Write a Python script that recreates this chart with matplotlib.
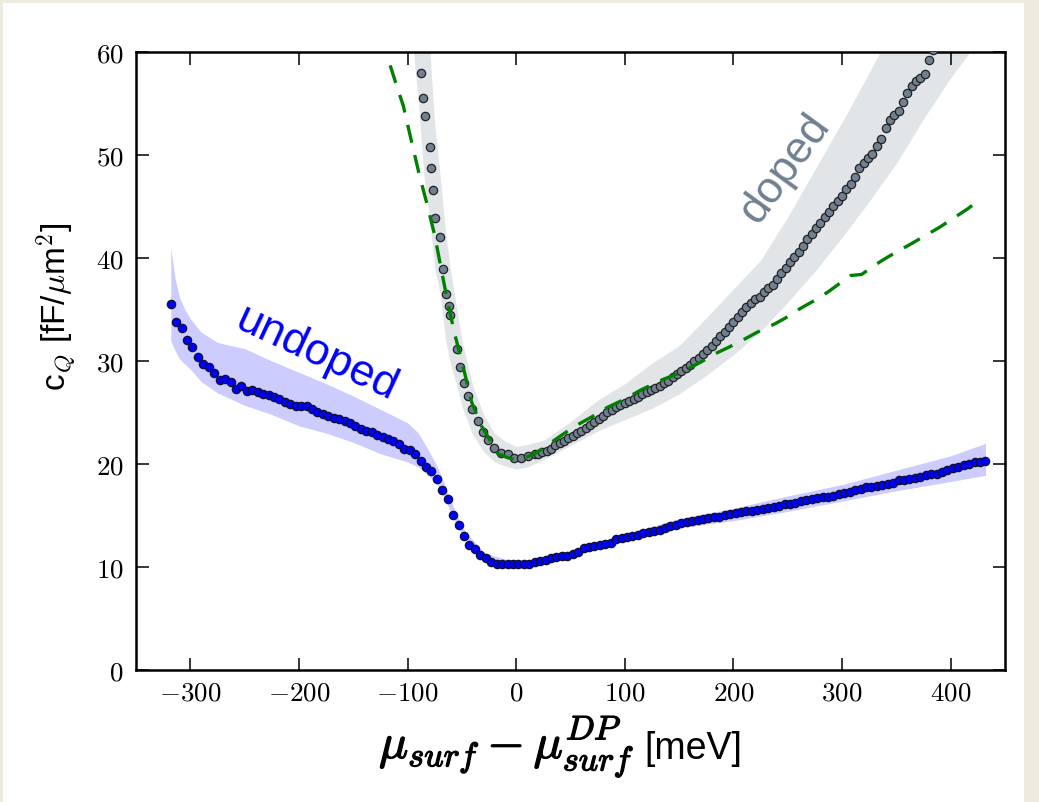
import matplotlib
matplotlib.use("Agg")
import matplotlib.pyplot as plt
import matplotlib.patheffects as pe
from matplotlib.patches import Rectangle
from matplotlib.ticker import FuncFormatter, MultipleLocator

plt.rcParams["mathtext.fontset"] = "cm"
plt.rcParams["font.family"] = ["Liberation Sans", "DejaVu Sans"]

# undoped sample: measured points
undoped_mu = [
    -318, -313, -308, -303, -298, -293, -288, -283, -278, -273, -268, -263, -258, -253, -248,
    -243, -238, -233, -228, -223, -218, -213, -208, -203, -198, -193, -188, -183, -178, -173,
    -168, -163, -158, -153, -148, -143, -138, -133, -128, -123, -118, -113, -108, -103, -98,
    -93, -88, -83, -78, -73, -68, -63, -58, -53, -48, -43, -38, -33, -28, -23,
    -18, -13, -8, -3, 2, 7, 12, 17, 22, 27, 32, 37, 42, 47, 52,
    57, 62, 67, 72, 77, 82, 87, 92, 97, 102, 107, 112, 117, 122, 127,
    132, 137, 142, 147, 152, 157, 162, 167, 172, 177, 182, 187, 192, 197, 202,
    207, 212, 217, 222, 227, 232, 237, 242, 247, 252, 257, 262, 267, 272, 277,
    282, 287, 292, 297, 302, 307, 312, 317, 322, 327, 332, 337, 342, 347, 352,
    357, 362, 367, 372, 377, 382, 387, 392, 397, 402, 407, 412, 417, 422, 427,
    432,
]
undoped_cq = [
    35.5, 33.8, 33.2, 32.0, 31.4, 30.4, 29.7, 29.4, 28.8, 28.2, 28.3, 28.0, 27.3, 27.6, 27.1,
    27.2, 27.0, 26.8, 26.7, 26.5, 26.3, 26.0, 25.8, 25.6, 25.6, 25.6, 25.3, 25.0, 24.9, 24.7,
    24.5, 24.4, 24.2, 24.0, 23.7, 23.4, 23.2, 23.1, 22.8, 22.6, 22.4, 22.2, 21.9, 21.5, 21.4,
    21.0, 20.3, 19.7, 19.3, 18.5, 17.5, 16.6, 15.0, 14.1, 13.0, 12.1, 11.7, 11.2, 10.9, 10.5,
    10.3, 10.3, 10.3, 10.3, 10.3, 10.3, 10.3, 10.5, 10.6, 10.7, 10.9, 11.0, 11.1, 11.1, 11.3,
    11.5, 11.8, 11.9, 12.0, 12.1, 12.2, 12.3, 12.7, 12.8, 12.9, 13.0, 13.1, 13.3, 13.4, 13.5,
    13.6, 13.8, 14.0, 14.1, 14.3, 14.4, 14.5, 14.6, 14.7, 14.8, 14.9, 14.9, 15.0, 15.1, 15.2,
    15.3, 15.4, 15.4, 15.5, 15.6, 15.7, 15.8, 15.9, 16.1, 16.1, 16.2, 16.4, 16.5, 16.6, 16.7,
    16.8, 16.8, 16.9, 17.1, 17.2, 17.3, 17.5, 17.6, 17.8, 17.8, 17.9, 18.0, 18.1, 18.2, 18.4,
    18.4, 18.5, 18.6, 18.7, 18.9, 19.0, 19.0, 19.2, 19.4, 19.6, 19.7, 19.9, 20.0, 20.2, 20.2,
    20.3,
]

# undoped uncertainty band
undoped_band_mu = [-318, -314, -310, -305, -300, -290, -275, -250, -225, -200, -175, -150, -125,
                   -100, -90, -80, -72, -65, -60, -50, -30, 0, 50, 100, 150, 200, 250, 300, 350,
                   400, 432]
undoped_band_hi = [41.0, 38.0, 36.2, 35.0, 34.1, 32.8, 31.8, 31.2, 30.0, 28.9, 27.8, 26.6, 25.3,
                   24.0, 23.0, 21.2, 19.6, 17.8, 16.4, 13.9, 11.4, 10.45, 11.5, 13.2, 14.7, 15.7,
                   16.9, 18.0, 19.4, 20.8, 22.0]
undoped_band_lo = [32.0, 31.0, 30.2, 29.7, 29.2, 28.0, 26.9, 25.7, 24.8, 23.7, 23.0, 22.1, 21.0,
                   20.2, 19.7, 18.8, 17.9, 16.5, 15.2, 13.1, 10.9, 10.15, 11.0, 12.5, 13.8, 14.5,
                   15.4, 16.4, 17.4, 18.3, 18.9]

# doped sample: measured points
doped_mu = [
    -95, -91, -87.5, -86, -84.4, -79.8, -78.2, -76.7, -74.3, -70, -67.5, -64.5, -62, -60.5, -54.4,
    -51.6, -47.6, -44, -40.8, -35.3, -30.7, -26, -20, -13.8, -7.6, -1.6, 4.6, 10.8, 16.9, 20,
    24, 28, 32, 36, 40, 44, 48, 52, 56, 60, 64, 68, 72, 76, 80,
    84, 88, 92, 96, 100, 104, 108, 112, 116, 120, 124, 128, 132, 136, 140,
    144, 148, 152, 156, 160, 164, 168, 172, 176, 180, 184, 188, 192, 196, 200,
    204, 208, 212, 216, 220, 224, 228, 232, 236, 240, 244, 248, 252, 256, 260,
    264, 268, 272, 276, 280, 284, 288, 292, 296, 300, 304, 308, 312, 316, 320,
    324, 328, 332, 336, 340, 344, 348, 352, 356, 360, 364, 368, 372, 376, 380,
    384, 388, 392, 396, 400, 404, 408, 412, 416, 420, 424, 428, 432,
]
doped_cq = [
    65.0, 61.5, 58.0, 55.5, 53.8, 50.8, 48.7, 46.6, 43.9, 42.0, 38.9, 36.5, 35.3, 34.5, 31.2,
    29.4, 27.9, 26.6, 25.3, 24.2, 23.1, 22.3, 21.6, 21.1, 21.0, 20.6, 20.6, 20.8, 21.0, 21.0,
    21.2, 21.3, 21.5, 21.8, 22.0, 22.2, 22.5, 22.7, 23.0, 23.2, 23.5, 23.8, 24.1, 24.4, 24.7,
    25.0, 25.2, 25.5, 25.7, 25.9, 26.1, 26.3, 26.5, 26.8, 27.0, 27.2, 27.4, 27.6, 27.9, 28.1,
    28.4, 28.7, 29.0, 29.3, 29.6, 30.0, 30.3, 30.7, 31.1, 31.5, 31.9, 32.4, 32.8, 33.3, 33.8,
    34.3, 34.8, 35.2, 35.6, 36.0, 36.2, 36.7, 37.1, 37.4, 38.0, 38.5, 39.0, 39.6, 40.1, 40.6,
    41.2, 41.8, 42.3, 42.9, 43.4, 44.0, 44.5, 45.0, 45.5, 46.0, 46.7, 47.2, 47.9, 48.7, 49.2,
    49.7, 50.1, 50.9, 51.6, 52.6, 53.4, 53.9, 54.3, 55.1, 56.0, 56.7, 57.2, 57.5, 57.9, 59.2,
    60.2, 61.0, 62.0, 63.0, 64.0, 65.0, 66.0, 67.0, 68.0, 69.0, 70.0, 71.0, 72.0,
]

# doped uncertainty band
doped_band_mu = [-95, -90, -85, -80, -75, -70, -65, -60, -55, -50, -40, -30, -20, -10, 0, 10, 25,
                 50, 75, 100, 125, 150, 175, 200, 225, 250, 275, 300, 325, 350, 375, 400, 432]
doped_band_hi = [74.0, 70.0, 64.0, 61.0, 53.0, 48.0, 42.5, 38.5, 35.3, 32.0, 27.6, 24.8, 23.0, 22.2,
                 21.7, 21.9, 22.3, 24.1, 26.2, 27.8, 29.8, 31.5, 34.2, 37.0, 39.8, 44.0, 48.6,
                 53.2, 58.0, 63.0, 68.0, 73.0, 80.0]
doped_band_lo = [60.5, 55.0, 48.0, 44.0, 39.0, 36.5, 32.0, 29.5, 27.7, 25.6, 22.8, 21.2, 20.2, 19.8,
                 19.5, 19.7, 20.4, 21.8, 23.2, 24.3, 25.4, 26.8, 28.6, 30.6, 32.9, 35.7, 38.7,
                 42.0, 45.5, 49.2, 53.5, 57.5, 62.0]

# model curve (green dashed)
model_mu = [-116, -110, -104, -97, -89, -83, -75, -69, -63, -57, -49, -41, -32, -24, -17, -10, -4,
            2, 8, 15, 23, 35, 53, 70, 84, 100, 115, 135, 152, 170, 183, 195, 208, 222, 238, 250,
            260, 275, 287, 300, 308, 318, 330, 339, 352, 364, 377, 390, 403, 416, 421]
model_cq = [58.7, 56.7, 54.8, 51.6, 48.0, 45.6, 42.2, 38.9, 35.7, 32.8, 29.5, 26.0, 23.7, 22.3, 21.0,
            20.7, 20.5, 20.5, 20.6, 20.9, 21.4, 22.3, 23.6, 24.6, 25.5, 26.3, 27.2, 28.2, 28.9,
            29.9, 30.7, 31.3, 32.0, 32.8, 33.6, 34.3, 35.0, 35.9, 36.7, 37.7, 38.3, 38.4, 39.3,
            39.9, 40.7, 41.4, 42.2, 43.0, 43.9, 44.8, 45.2]

fig = plt.figure(figsize=(10.39, 8.03), dpi=100, facecolor="#edebe0")
fig.patches.append(Rectangle((3 / 1039, 0), 1021 / 1039, 799 / 803, transform=fig.transFigure,
                             facecolor="white", edgecolor="none", zorder=-10))
ax = fig.add_axes([0.1309, 0.1644, 0.8364, 0.7696])

ax.fill_between(undoped_band_mu, undoped_band_lo, undoped_band_hi, color="blue", alpha=0.2, lw=0)
ax.fill_between(doped_band_mu, doped_band_lo, doped_band_hi, color="slategray", alpha=0.2, lw=0)

ax.plot(undoped_mu, undoped_cq, "o", ms=6, mfc="blue", mec="#111133", mew=0.9, zorder=3)
ax.plot(doped_mu, doped_cq, "o", ms=6, mfc="slategray", mec="#222222", mew=0.9, zorder=3)
ax.plot(model_mu, model_cq, "--", color="green", lw=2.4, dashes=(5.5, 3.8), zorder=4)

ax.text(-184, 30.8, "undoped", color="blue", fontsize=32, rotation=-25,
        ha="center", va="center")
ax.text(247, 48.7, "doped", color="slategray", fontsize=32, rotation=54,
        ha="center", va="center")

ax.set_xlim(-350, 450)
ax.set_ylim(0, 60)
ax.xaxis.set_major_locator(MultipleLocator(100))
ax.yaxis.set_major_locator(MultipleLocator(10))
fmt = FuncFormatter(lambda v, p: f"${v:g}$")
ax.xaxis.set_major_formatter(fmt)
ax.yaxis.set_major_formatter(fmt)
ax.tick_params(direction="in", top=True, right=True, length=9, width=1.1, labelsize=19.5)
ax.tick_params(axis="x", pad=7)
ax.tick_params(axis="y", pad=9)
for s in ax.spines.values():
    s.set_linewidth(1.8)

# x label: bold-looking math part followed by the unit
xl_math = ax.text(0.2796, -0.143, r"$\mu_{surf} - \mu^{DP}_{surf}$", transform=ax.transAxes,
                  fontsize=35, ha="left", va="baseline",
                  path_effects=[pe.withStroke(linewidth=0.9, foreground="black")])
fig.canvas.draw()
bb = xl_math.get_window_extent()
x_unit = ax.transAxes.inverted().transform((bb.x1 + 10, 0))[0]
ax.text(x_unit, -0.143, "[meV]", transform=ax.transAxes, fontsize=27, ha="left", va="baseline")

ax.set_ylabel(r"c$_Q$ [fF/$\mu$m$^2$]", fontsize=24)
ax.yaxis.set_label_coords(-0.066, 0.59)

fig.savefig("out.png", dpi=100, facecolor=fig.get_facecolor())
